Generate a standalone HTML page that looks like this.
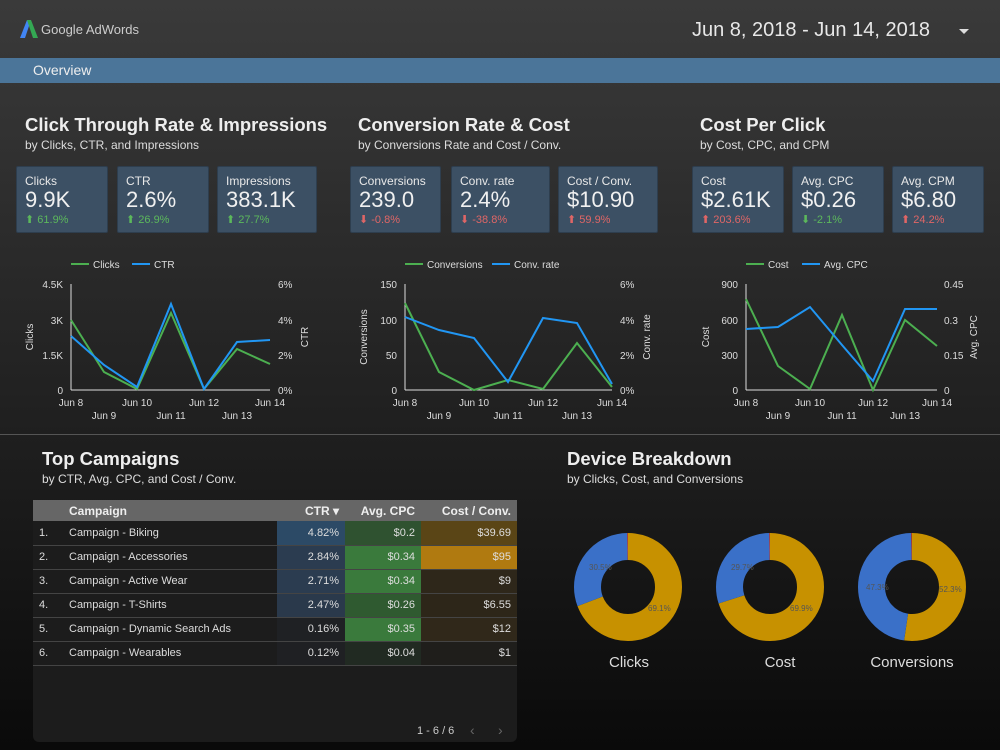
<!DOCTYPE html>
<html><head><meta charset="utf-8"><style>
*{margin:0;padding:0;box-sizing:border-box}
body{width:1000px;height:750px;overflow:hidden;font-family:"Liberation Sans",sans-serif;color:#ddd;position:relative;background:#141414}
.top{position:absolute;left:0;top:0;width:1000px;height:434px;background:linear-gradient(#3a3a3a,#1f1f1f)}
.bot{position:absolute;left:0;top:434px;width:1000px;height:316px;background:linear-gradient(#1f1f1f,#0a0a0a);border-top:1px solid #555}
.a{position:absolute;white-space:nowrap}
.h{font-size:18.5px;font-weight:bold;color:#eee}
.s{font-size:12px;color:#ddd}
.card{position:absolute;top:166px;height:67px;background:#3c5064;border:1px solid #2e3e4e;border-radius:2px}
.card .l{position:absolute;left:8px;top:7px;font-size:12px;color:#e8e8e8}
.card .v{position:absolute;left:8px;top:20px;font-size:22px;color:#f0f0f0}
.card .d{position:absolute;left:8px;top:46px;font-size:11px}
.g{color:#5cb85c}.r{color:#e06666}
table{border-collapse:collapse;font-size:11px}
td{height:24px;border-bottom:1px solid #444;padding:0 6px}
</style></head><body>
<div class="top"></div><div class="bot"></div>
<svg class="a" style="left:20px;top:20px" width="18" height="18" viewBox="0 0 18 18"><polygon points="0,18 7,0 11,0 5,18" fill="#4285f4"/><polygon points="7,0 11,0 18,18 13,18" fill="#34a853"/></svg>
<div class="a" style="left:41px;top:22px;font-size:13px;color:#ccc">Google AdWords</div>
<div class="a" style="left:692px;top:19px;font-size:20px;color:#e8e8e8">Jun 8, 2018 - Jun 14, 2018</div>
<div class="a" style="left:959px;top:29px;width:0;height:0;border-left:5px solid transparent;border-right:5px solid transparent;border-top:5px solid #ddd"></div>
<div class="a" style="left:0;top:58px;width:1000px;height:25px;background:#4b7599"></div>
<div class="a" style="left:33px;top:62px;font-size:14px;color:#eee">Overview</div>

<div class="a h" style="left:25px;top:114px">Click Through Rate &amp; Impressions</div>
<div class="a s" style="left:25px;top:138px">by Clicks, CTR, and Impressions</div>
<div class="a h" style="left:358px;top:114px">Conversion Rate &amp; Cost</div>
<div class="a s" style="left:358px;top:138px">by Conversions Rate and Cost / Conv.</div>
<div class="a h" style="left:700px;top:114px">Cost Per Click</div>
<div class="a s" style="left:700px;top:138px">by Cost, CPC, and CPM</div>

<div class="card" style="left:16px;width:92px"><div class="l">Clicks</div><div class="v">9.9K</div><div class="d g">⬆ 61.9%</div></div>
<div class="card" style="left:117px;width:92px"><div class="l">CTR</div><div class="v">2.6%</div><div class="d g">⬆ 26.9%</div></div>
<div class="card" style="left:217px;width:100px"><div class="l">Impressions</div><div class="v">383.1K</div><div class="d g">⬆ 27.7%</div></div>
<div class="card" style="left:350px;width:91px"><div class="l">Conversions</div><div class="v">239.0</div><div class="d r">⬇ -0.8%</div></div>
<div class="card" style="left:451px;width:99px"><div class="l">Conv. rate</div><div class="v">2.4%</div><div class="d r">⬇ -38.8%</div></div>
<div class="card" style="left:558px;width:100px"><div class="l">Cost / Conv.</div><div class="v">$10.90</div><div class="d r">⬆ 59.9%</div></div>
<div class="card" style="left:692px;width:92px"><div class="l">Cost</div><div class="v">$2.61K</div><div class="d r">⬆ 203.6%</div></div>
<div class="card" style="left:792px;width:92px"><div class="l">Avg. CPC</div><div class="v">$0.26</div><div class="d g">⬇ -2.1%</div></div>
<div class="card" style="left:892px;width:92px"><div class="l">Avg. CPM</div><div class="v">$6.80</div><div class="d r">⬆ 24.2%</div></div>

<svg class="a" style="left:0;top:0" width="1000" height="434" font-family="Liberation Sans, sans-serif" font-size="10" fill="#ddd">
<g stroke-width="2" fill="none">
<line x1="71" y1="284" x2="71" y2="390" stroke="#ddd" stroke-width="1"/><line x1="71" y1="390" x2="270" y2="390" stroke="#ddd" stroke-width="1"/>
<polyline stroke="#4caf50" points="71,320 104,372 137,389 171,313 204,389 237,349 270,364"/>
<polyline stroke="#2196f3" points="71,336 104,365 137,387 171,304 204,389 237,342 270,340"/>
<line x1="71" y1="264" x2="89" y2="264" stroke="#4caf50"/><line x1="132" y1="264" x2="150" y2="264" stroke="#2196f3"/>
<line x1="405" y1="284" x2="405" y2="390" stroke="#ddd" stroke-width="1"/><line x1="405" y1="390" x2="612" y2="390" stroke="#ddd" stroke-width="1"/>
<polyline stroke="#4caf50" points="405,303 439,372 474,390 508,380 543,389 577,343 612,387"/>
<polyline stroke="#2196f3" points="405,317 439,330 474,338 508,382 543,318 577,323 612,384"/>
<line x1="405" y1="264" x2="423" y2="264" stroke="#4caf50"/><line x1="492" y1="264" x2="510" y2="264" stroke="#2196f3"/>
<line x1="746" y1="284" x2="746" y2="390" stroke="#ddd" stroke-width="1"/><line x1="746" y1="390" x2="937" y2="390" stroke="#ddd" stroke-width="1"/>
<polyline stroke="#4caf50" points="746,299 778,366 810,389 842,315 873,390 905,320 937,346"/>
<polyline stroke="#2196f3" points="746,329 778,327 810,307 842,345 873,381 905,309 937,309"/>
<line x1="746" y1="264" x2="764" y2="264" stroke="#4caf50"/><line x1="802" y1="264" x2="820" y2="264" stroke="#2196f3"/>
</g>
<text x="93" y="268">Clicks</text><text x="154" y="268">CTR</text>
<text x="427" y="268">Conversions</text><text x="514" y="268">Conv. rate</text>
<text x="768" y="268">Cost</text><text x="824" y="268">Avg. CPC</text>
<g text-anchor="end"><text x="63" y="288">4.5K</text><text x="63" y="324">3K</text><text x="63" y="359">1.5K</text><text x="63" y="394">0</text>
<text x="397" y="288">150</text><text x="397" y="324">100</text><text x="397" y="359">50</text><text x="397" y="394">0</text>
<text x="738" y="288">900</text><text x="738" y="324">600</text><text x="738" y="359">300</text><text x="738" y="394">0</text></g>
<text x="278" y="288">6%</text><text x="278" y="324">4%</text><text x="278" y="359">2%</text><text x="278" y="394">0%</text>
<text x="620" y="288">6%</text><text x="620" y="324">4%</text><text x="620" y="359">2%</text><text x="620" y="394">0%</text>
<text x="944" y="288">0.45</text><text x="944" y="324">0.3</text><text x="944" y="359">0.15</text><text x="944" y="394">0</text>
<g text-anchor="middle">
<text x="71" y="406">Jun 8</text><text x="137" y="406">Jun 10</text><text x="204" y="406">Jun 12</text><text x="270" y="406">Jun 14</text>
<text x="104" y="419">Jun 9</text><text x="171" y="419">Jun 11</text><text x="237" y="419">Jun 13</text>
<text x="405" y="406">Jun 8</text><text x="474" y="406">Jun 10</text><text x="543" y="406">Jun 12</text><text x="612" y="406">Jun 14</text>
<text x="439" y="419">Jun 9</text><text x="508" y="419">Jun 11</text><text x="577" y="419">Jun 13</text>
<text x="746" y="406">Jun 8</text><text x="810" y="406">Jun 10</text><text x="873" y="406">Jun 12</text><text x="937" y="406">Jun 14</text>
<text x="778" y="419">Jun 9</text><text x="842" y="419">Jun 11</text><text x="905" y="419">Jun 13</text>
<text transform="translate(33,337) rotate(-90)">Clicks</text>
<text transform="translate(308,337) rotate(-90)">CTR</text>
<text transform="translate(367,337) rotate(-90)">Conversions</text>
<text transform="translate(650,337) rotate(-90)">Conv. rate</text>
<text transform="translate(709,337) rotate(-90)">Cost</text>
<text transform="translate(977,337) rotate(-90)">Avg. CPC</text>
</g>
</svg>

<div class="a h" style="left:42px;top:448px">Top Campaigns</div>
<div class="a s" style="left:42px;top:472px">by CTR, Avg. CPC, and Cost / Conv.</div>
<div class="a h" style="left:567px;top:448px">Device Breakdown</div>
<div class="a s" style="left:567px;top:472px">by Clicks, Cost, and Conversions</div>

<div class="a" style="left:33px;top:500px;width:484px;height:242px;background:#1c1c1c;border-radius:0 0 6px 6px"></div>
<div class="a" style="left:33px;top:500px;width:484px">
<table style="width:484px;color:#ddd">
<tr style="background:#666;font-weight:bold;font-size:12px;color:#eee"><td style="height:21px;width:30px;border:0"></td><td style="height:21px;border:0">Campaign</td><td style="height:21px;border:0;text-align:right;width:68px">CTR ▾</td><td style="height:21px;border:0;text-align:right;width:76px">Avg. CPC</td><td style="height:21px;border:0;text-align:right;width:96px">Cost / Conv.</td></tr>
<tr><td>1.</td><td>Campaign - Biking</td><td style="background:#2c4a66;text-align:right">4.82%</td><td style="background:#2f5230;text-align:right">$0.2</td><td style="background:#5a4516;text-align:right">$39.69</td></tr>
<tr><td>2.</td><td>Campaign - Accessories</td><td style="background:#2b3c50;text-align:right">2.84%</td><td style="background:#3a7a3c;text-align:right">$0.34</td><td style="background:#b07a10;text-align:right">$95</td></tr>
<tr><td>3.</td><td>Campaign - Active Wear</td><td style="background:#2b3c50;text-align:right">2.71%</td><td style="background:#3a7a3c;text-align:right">$0.34</td><td style="background:#2e271a;text-align:right">$9</td></tr>
<tr><td>4.</td><td>Campaign - T-Shirts</td><td style="background:#2a394b;text-align:right">2.47%</td><td style="background:#2f5a30;text-align:right">$0.26</td><td style="background:#2d2619;text-align:right">$6.55</td></tr>
<tr><td>5.</td><td>Campaign - Dynamic Search Ads</td><td style="background:#1f2124;text-align:right">0.16%</td><td style="background:#3a7a3c;text-align:right">$0.35</td><td style="background:#30281a;text-align:right">$12</td></tr>
<tr><td>6.</td><td>Campaign - Wearables</td><td style="background:#1f2023;text-align:right">0.12%</td><td style="background:#212a22;text-align:right">$0.04</td><td style="background:#1f1e1b;text-align:right">$1</td></tr>
</table></div>
<div class="a" style="left:417px;top:725px;font-size:11px;color:#ccc">1 - 6 / 6</div>
<div class="a" style="left:470px;top:722px;font-size:14px;color:#666">‹</div>
<div class="a" style="left:498px;top:722px;font-size:14px;color:#666">›</div>

<svg class="a" style="left:0;top:434px" width="1000" height="316" font-family="Liberation Sans, sans-serif">
<g fill="none" stroke-width="27">
<g transform="translate(628,153) rotate(-90)">
<circle r="40.5" stroke="#c79100" stroke-dasharray="175.9 254.5"/>
<circle r="40.5" stroke="#3a70c8" stroke-dasharray="77.6 254.5" stroke-dashoffset="-175.9"/>
<circle r="40.5" stroke="#d03b2a" stroke-dasharray="1 254.5" stroke-dashoffset="-253.5"/></g>
<g transform="translate(770,153) rotate(-90)">
<circle r="40.5" stroke="#c79100" stroke-dasharray="177.9 254.5"/>
<circle r="40.5" stroke="#3a70c8" stroke-dasharray="75.6 254.5" stroke-dashoffset="-177.9"/>
<circle r="40.5" stroke="#d03b2a" stroke-dasharray="1 254.5" stroke-dashoffset="-253.5"/></g>
<g transform="translate(912,153) rotate(-90)">
<circle r="40.5" stroke="#c79100" stroke-dasharray="133 254.5"/>
<circle r="40.5" stroke="#3a70c8" stroke-dasharray="120.4 254.5" stroke-dashoffset="-133"/>
<circle r="40.5" stroke="#d03b2a" stroke-dasharray="1 254.5" stroke-dashoffset="-253.5"/></g>
</g>
<g font-size="8" fill="#555">
<text x="589" y="136">30.5%</text><text x="648" y="177">69.1%</text>
<text x="731" y="136">29.7%</text><text x="790" y="177">69.9%</text>
<text x="866" y="156">47.3%</text><text x="939" y="158">52.3%</text></g>
<g font-size="15" fill="#ddd" text-anchor="middle">
<text x="629" y="233">Clicks</text><text x="780" y="233">Cost</text><text x="912" y="233">Conversions</text></g>
</svg>
</body></html>
